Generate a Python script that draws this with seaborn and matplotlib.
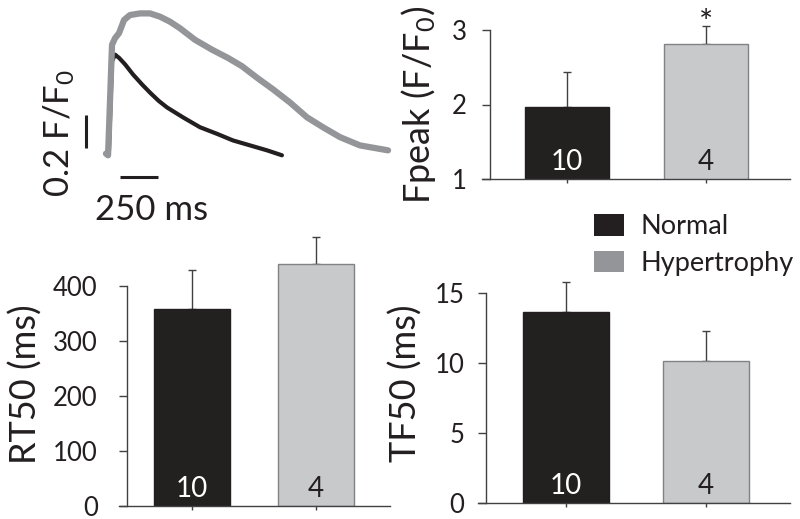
import numpy as np
import pandas as pd
import matplotlib
matplotlib.use("Agg")
import matplotlib.pyplot as plt
from matplotlib.patches import Patch
import seaborn as sns

# ---------------- data ----------------
groups = ["Normal", "Hypertrophy"]
n_cells = ["10", "4"]

fpeak_mean = [1.96, 2.81]
fpeak_sem = [0.47, 0.24]

rt50_mean = [358, 440]
rt50_sem = [71, 49]

tf50_mean = [13.65, 10.15]
tf50_sem = [2.15, 2.15]

# representative Ca2+ transients (time in ms, F/F0)
normal_t = [0, 13, 33, 53, 80, 120, 171, 230, 283, 340, 395, 500, 612, 724, 829, 941, 1053, 1151]
normal_f = [1.00, 1.01, 1.55, 1.59, 1.57, 1.53, 1.47, 1.41, 1.36, 1.31, 1.27, 1.21, 1.15, 1.11,
            1.07, 1.04, 1.01, 0.98]

hyper_t = [-7, 7, 33, 53, 79, 112, 151, 217, 283, 349, 414, 480, 579, 691, 796,
           888, 987, 1092, 1204, 1316, 1421, 1533, 1664, 1849]
hyper_f = [0.99, 0.98, 1.65, 1.69, 1.72, 1.80, 1.83, 1.84, 1.84, 1.82, 1.79, 1.75, 1.68,
           1.62, 1.57, 1.52, 1.45, 1.38, 1.30, 1.21, 1.15, 1.09, 1.04, 1.01]

scale_t = 250   # ms
scale_f = 0.2   # F/F0

# ---------------- style ----------------
sns.set_style("white")
plt.rcParams["font.family"] = ["Lato", "DejaVu Sans"]
plt.rcParams["mathtext.fontset"] = "custom"
plt.rcParams["mathtext.rm"] = "Lato"

TXT = "#231f20"
BLACK = "#231f20"
GREY_BAR = "#c8c9cb"
GREY_EDGE = "#808285"
GREY_LINE = "#939598"
ERR = "#414042"
SPINE = "#414042"

W, H = 800, 519
fig = plt.figure(figsize=(W / 100, H / 100), dpi=100)


def px_axes(left, top, right, bottom):
    return fig.add_axes([left / W, (H - bottom) / H, (right - left) / W, (bottom - top) / H])


# ---------------- trace panel ----------------
axT = px_axes(40, 0, 400, 235)
px_per_ms = 38 / 250
px_per_f = 33 / 0.2
t_of = lambda x: (x - 107) / px_per_ms
f_of = lambda y: 1 + (152 - y) / px_per_f

sns.lineplot(x=normal_t, y=normal_f, ax=axT, color=BLACK, linewidth=3.0, sort=False, zorder=2)
sns.lineplot(x=hyper_t, y=hyper_f, ax=axT, color=GREY_LINE, linewidth=4.5, sort=False, zorder=3)
axT.set_xlim(t_of(40), t_of(400))
axT.set_ylim(f_of(235), f_of(0))
axT.axis("off")

vb_t = t_of(86)
vb_f0 = f_of(148)
axT.plot([vb_t, vb_t], [vb_f0, vb_f0 + scale_f], color=TXT, lw=2.2, solid_capstyle="butt")
hb_t0 = t_of(120)
hb_f = f_of(177)
axT.plot([hb_t0, hb_t0 + scale_t], [hb_f, hb_f], color=TXT, lw=2.2, solid_capstyle="butt")
axT.text(t_of(59), f_of(133), f"{scale_f} F/$\\mathregular{{F_0}}$", rotation=90,
         ha="center", va="center", fontsize=25, color=TXT)
axT.text(t_of(152), f_of(210), f"{scale_t} ms", ha="center", va="center", fontsize=25, color=TXT)


def bar_panel(ax, means, sems, ylim, ticks, xlim, label, label_xy, pad, star=False):
    df = pd.DataFrame({"group": groups, "value": means})
    sns.barplot(data=df, x="group", y="value", hue="group", order=groups, hue_order=groups,
                palette=[BLACK, GREY_BAR], width=0.61, errorbar=None, legend=False,
                ax=ax, zorder=2)
    edges = [BLACK, GREY_EDGE]
    for p, ec in zip(ax.patches, edges):
        p.set_edgecolor(ec)
        p.set_linewidth(1.0)
    ax.errorbar([0, 1], means, yerr=[np.zeros(2), sems], fmt="none", ecolor=ERR,
                elinewidth=1.0, capsize=3, capthick=1.0, zorder=1)
    ax.set_ylim(*ylim)
    ax.set_xlim(*xlim)
    ax.set_yticks(ticks)
    ax.set_yticklabels([f"{t:g}" for t in ticks])
    ax.set_xticks([0, 1])
    ax.set_xticklabels([])
    ax.set_xlabel("")
    ax.set_ylabel(label, fontsize=26, color=TXT, va="center")
    ax.yaxis.set_label_coords(*label_xy)
    for s in ["top", "right"]:
        ax.spines[s].set_visible(False)
    for s in ["left", "bottom"]:
        ax.spines[s].set_color(SPINE)
        ax.spines[s].set_linewidth(1.0)
    ax.spines["left"].set_bounds(ticks[0], ticks[-1])
    x0, x1 = ax.get_xlim()
    bbox = ax.get_window_extent()
    ext = 8 * (x1 - x0) / bbox.width
    ax.spines["bottom"].set_bounds(x0 - ext, x1)
    ax.tick_params(axis="y", direction="out", length=6, width=1.0, color=SPINE,
                   labelsize=18.5, labelcolor=TXT, pad=pad, left=True)
    ax.tick_params(axis="x", direction="out", length=3, width=1.0, color=SPINE, bottom=True)
    for i, (n, c) in enumerate(zip(n_cells, ["white", TXT])):
        ax.annotate(n, xy=(i, ylim[0]), xytext=(0, 12), textcoords="offset points",
                    ha="center", va="center", fontsize=20, color=c, zorder=4)
    if star:
        ax.annotate("*", xy=(1, means[1] + sems[1]), xytext=(0, 1.5), textcoords="offset points",
                    ha="center", va="center", fontsize=24, color=TXT)


axF = px_axes(490, 5, 790, 179)
bar_panel(axF, fpeak_mean, fpeak_sem, (1, 1 + 174 / 74.5), [1, 2, 3],
          (-0.554, 1.604), "Fpeak (F/$\\mathregular{F_0}$)", (-0.237, 0.425), pad=11, star=True)

axR = px_axes(127, 225, 390, 506)
bar_panel(axR, rt50_mean, rt50_sem, (0, 281 / 0.55), [0, 100, 200, 300, 400],
          (-0.524, 1.597), "RT50 (ms)", (-0.384, 0.434), pad=15)

axTF = px_axes(486, 270, 790, 503)
bar_panel(axTF, tf50_mean, tf50_sem, (0, 233 / 14), [0, 5, 10, 15],
          (-0.571, 1.6), "TF50 (ms)", (-0.263, 0.515), pad=9.5)

handles = [Patch(facecolor=BLACK, edgecolor="none"), Patch(facecolor=GREY_LINE, edgecolor="none")]
fig.legend(handles, groups, loc="upper left", bbox_to_anchor=(594 / W, (H - 214) / H),
           frameon=False, fontsize=19.5, handlelength=1.1, handleheight=0.85,
           handletextpad=0.6, labelspacing=0.42, borderpad=0, borderaxespad=0,
           labelcolor=TXT)

fig.savefig("out.png", dpi=100)
